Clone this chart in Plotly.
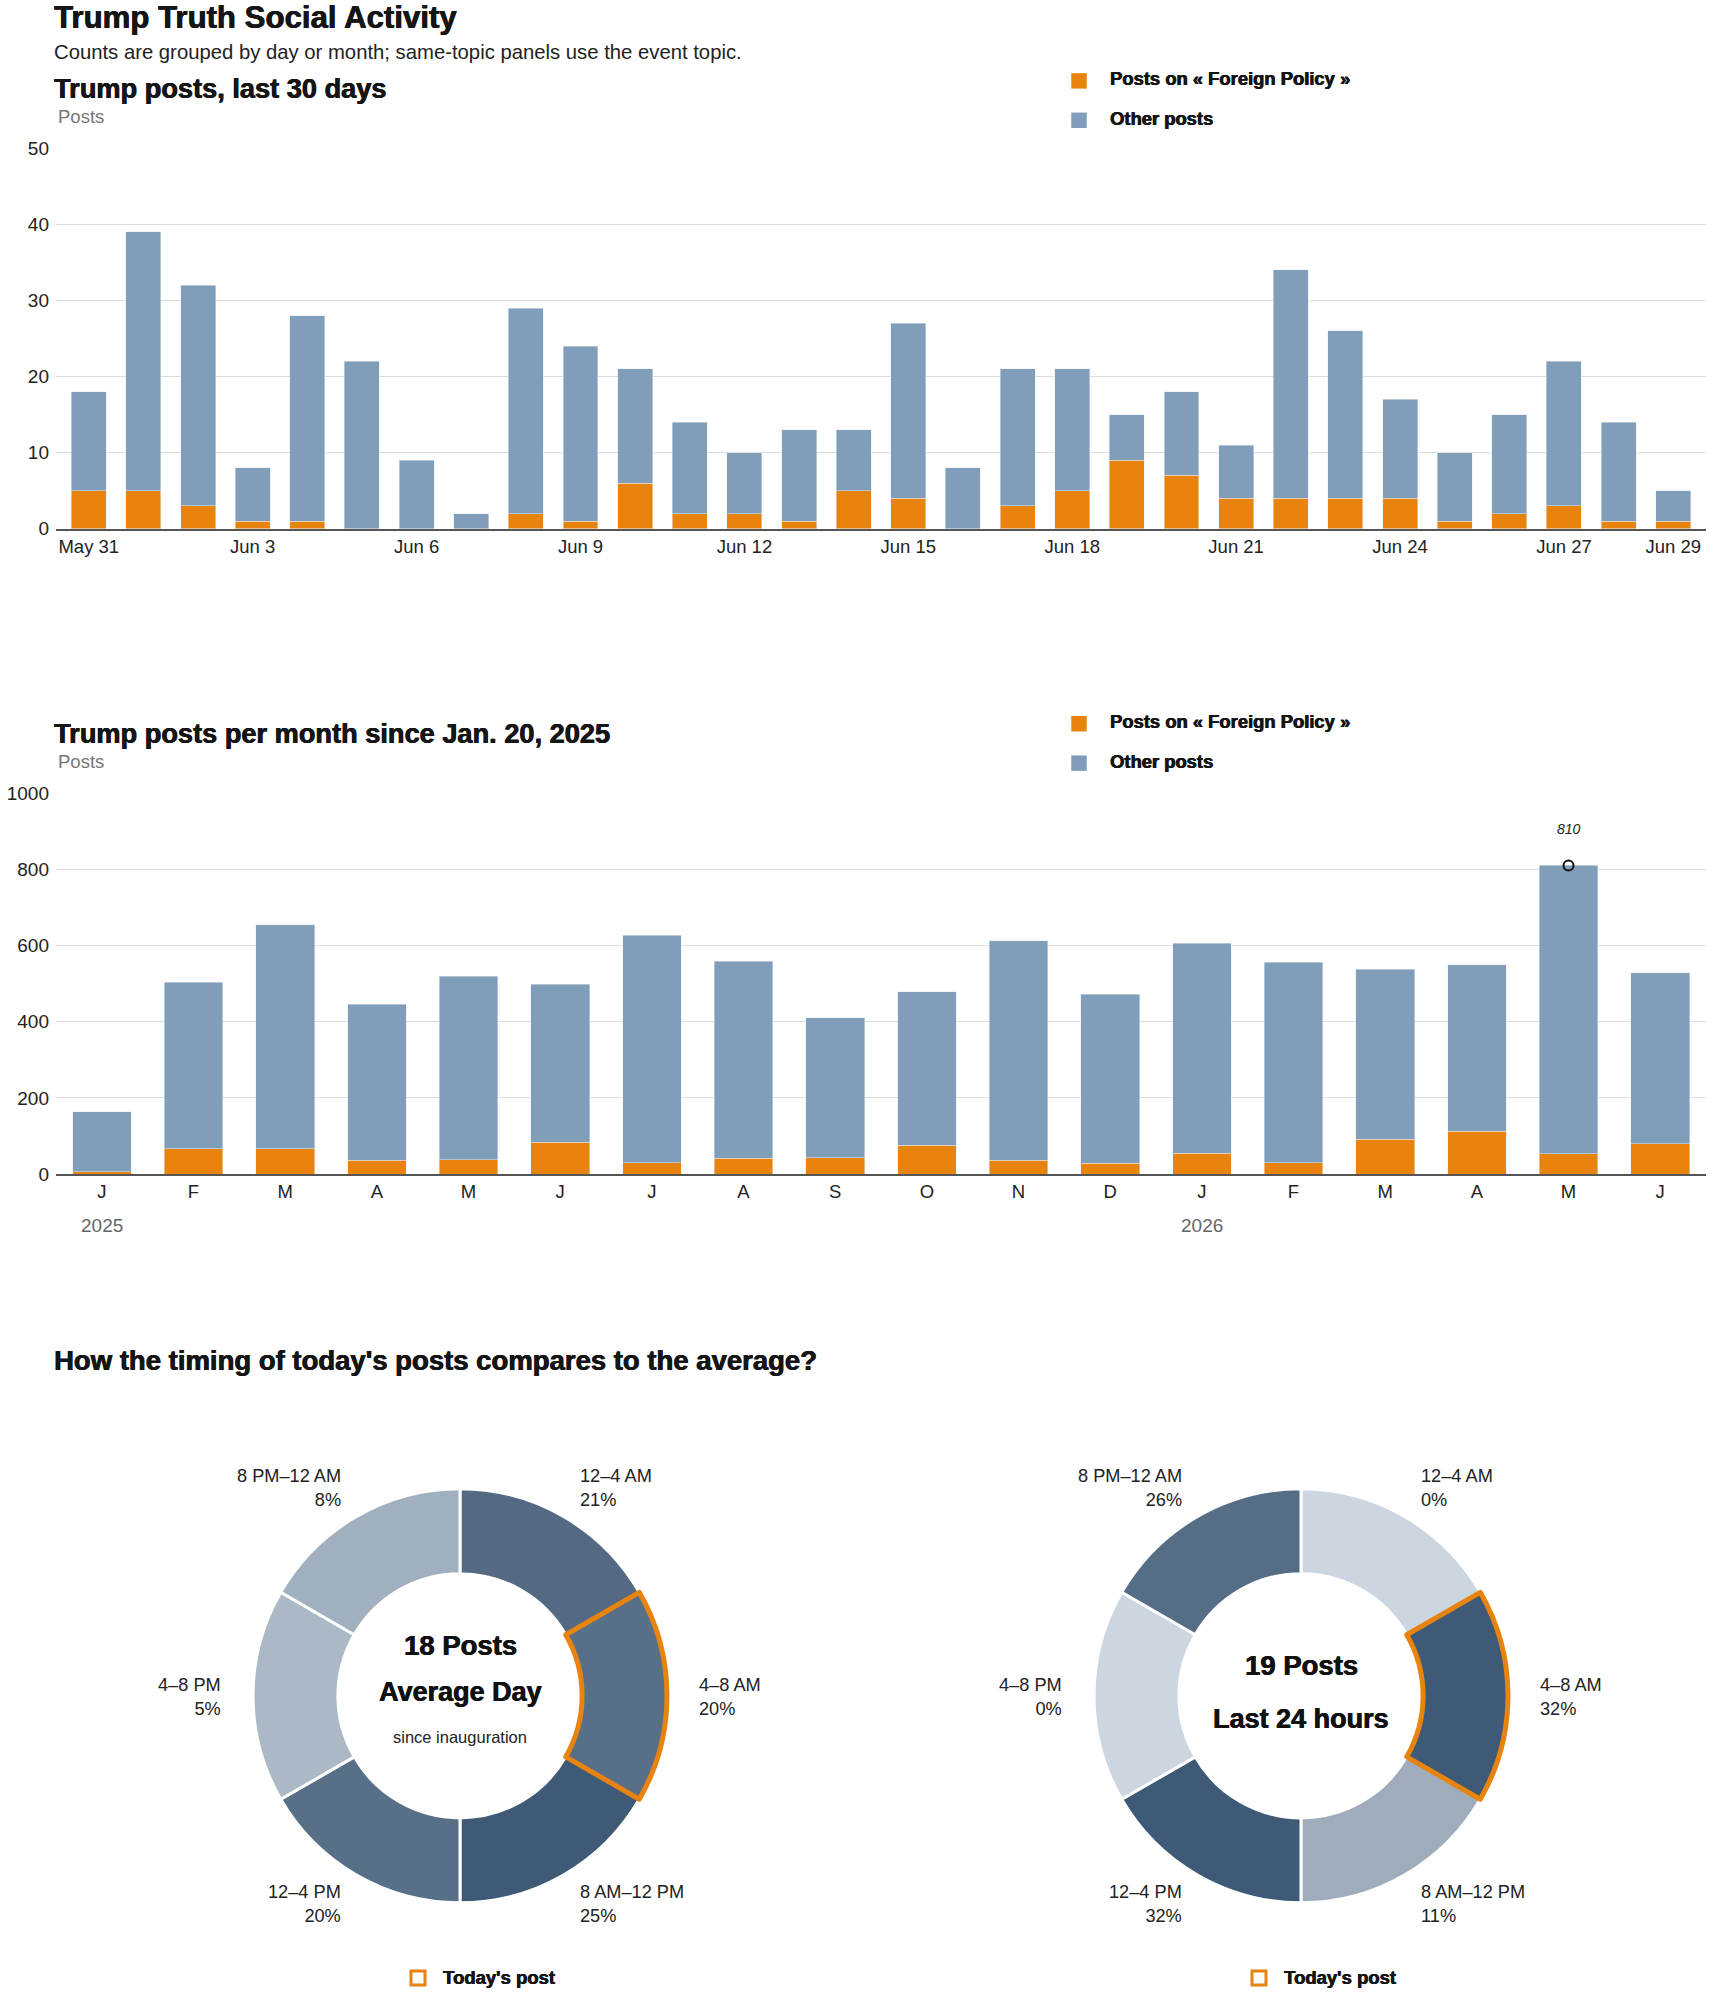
import plotly.graph_objects as go

W, H = 1710, 1993
def px(x): return x / W
# vertical positions are given in screenshot pixels; small correction for how the page is photographed
def py(y): return 1 - (1.00809 * y - 8) / H

# ---------------- data ----------------
day_labels = ["May 31"] + [f"Jun {d}" for d in range(1, 30)]
day_total = [18, 39, 32, 8, 28, 22, 9, 2, 29, 24, 21, 14, 10, 13, 13, 27, 8, 21, 21, 15, 18, 11, 34, 26, 17, 10, 15, 22, 14, 5]
day_foreign = [5, 5, 3, 1, 1, 0, 0, 0, 2, 1, 6, 2, 2, 1, 5, 4, 0, 3, 5, 9, 7, 4, 4, 4, 4, 1, 2, 3, 1, 1]
day_other = [t - f for t, f in zip(day_total, day_foreign)]
day_tick_labels = ["May 31", "Jun 3", "Jun 6", "Jun 9", "Jun 12", "Jun 15", "Jun 18", "Jun 21", "Jun 24", "Jun 27", "Jun 29"]

months = ["Jan 2025", "Feb 2025", "Mar 2025", "Apr 2025", "May 2025", "Jun 2025", "Jul 2025", "Aug 2025",
          "Sep 2025", "Oct 2025", "Nov 2025", "Dec 2025", "Jan 2026", "Feb 2026", "Mar 2026", "Apr 2026",
          "May 2026", "Jun 2026"]
month_initials = ["J", "F", "M", "A", "M", "J", "J", "A", "S", "O", "N", "D", "J", "F", "M", "A", "M", "J"]
month_total = [164, 504, 654, 446, 519, 498, 627, 559, 411, 478, 612, 472, 606, 556, 538, 549, 810, 528]
month_foreign = [6, 67, 67, 36, 38, 83, 30, 42, 43, 76, 36, 28, 55, 30, 91, 112, 53, 80]
month_other = [t - f for t, f in zip(month_total, month_foreign)]
peak_month = "May 2026"
peak_value = 810
year_labels = {"Jan 2025": "2025", "Jan 2026": "2026"}

slots = ["12–4 AM", "4–8 AM", "8 AM–12 PM", "12–4 PM", "4–8 PM", "8 PM–12 AM"]
segment_size = [1, 1, 1, 1, 1, 1]
avg_pct = [21, 20, 25, 20, 5, 8]
today_pct = [0, 32, 11, 32, 0, 26]
highlight_slot = "4–8 AM"

# ---------------- styles ----------------
ORANGE = "#e8830e"
BLUE = "#809db9"
SANS = "Liberation Sans, Arial, sans-serif"
INK = "#151515"
HEAVY = "0.5px 0 0 #151515, -0.3px 0 0 #151515"
avg_colors = ["#536a82", "#586f88", "#3e5a76", "#586f88", "#abb9c7", "#a1b0bf"]
today_colors = ["#cbd6e0", "#3e5a76", "#9eacbb", "#3e5a76", "#cbd6e0", "#566d86"]

fig = go.Figure()

# chart 1
fig.add_trace(go.Bar(x=day_labels, y=day_foreign, marker_color=ORANGE, name="Posts on « Foreign Policy »",
                     xaxis="x", yaxis="y", showlegend=False))
fig.add_trace(go.Bar(x=day_labels, y=day_other, marker_color=BLUE, name="Other posts",
                     xaxis="x", yaxis="y", showlegend=False))
# chart 2
fig.add_trace(go.Bar(x=months, y=month_foreign, marker_color=ORANGE, name="Posts on « Foreign Policy »",
                     xaxis="x2", yaxis="y2", showlegend=False))
fig.add_trace(go.Bar(x=months, y=month_other, marker_color=BLUE, name="Other posts",
                     xaxis="x2", yaxis="y2", showlegend=False))
fig.add_trace(go.Scatter(x=[peak_month], y=[peak_value], mode="markers", xaxis="x2", yaxis="y2",
                         marker=dict(symbol="circle-open", size=10, color="#111", line=dict(width=2)),
                         showlegend=False, hoverinfo="skip"))

# donuts
def donut(cx, cy, r, colors, name):
    dom = dict(x=[px(cx - r), px(cx + r)], y=[py(cy + r), py(cy - r)])
    fig.add_trace(go.Pie(labels=slots, values=segment_size, sort=False, direction="clockwise", rotation=0,
                         hole=0.59, domain=dom, textinfo="none", name=name, showlegend=False,
                         marker=dict(colors=colors, line=dict(color="white", width=3))))
    fig.add_trace(go.Pie(labels=slots, values=segment_size, sort=False, direction="clockwise", rotation=0,
                         hole=0.59, domain=dom, textinfo="none", showlegend=False, hoverinfo="skip",
                         marker=dict(colors=["rgba(0,0,0,0)"] * 6,
                                     line=dict(color=[ORANGE if s == highlight_slot else "rgba(0,0,0,0)" for s in slots],
                                               width=[5 if s == highlight_slot else 0 for s in slots]))))

donut(460, 1698, 207.5, avg_colors, "Average day")
donut(1301, 1698, 207.5, today_colors, "Last 24 hours")

axis_common = dict(showgrid=False, zeroline=False, showline=True, linecolor="#555", linewidth=2,
                   ticks="", tickfont=dict(family=SANS, size=18.5, color="#222"), fixedrange=True)
yaxis_common = dict(showgrid=True, gridcolor="#dcdcdc", gridwidth=1, zeroline=False, showline=False,
                    ticks="", tickfont=dict(family=SANS, size=19, color="#222"), ticklabelstandoff=6)

fig.update_layout(
    width=W, height=H, margin=dict(l=0, r=0, t=0, b=0),
    paper_bgcolor="white", plot_bgcolor="white",
    barmode="stack", bargap=0.36,
    xaxis=dict(axis_common, domain=[px(56), px(1706)], anchor="y", type="category", range=[-0.6, 29.6],
               tickmode="array", tickvals=day_tick_labels, ticktext=day_tick_labels),
    yaxis=dict(yaxis_common, domain=[py(528), py(146.5)], range=[0, 50], dtick=10, anchor="x"),
    xaxis2=dict(axis_common, domain=[px(56), px(1706)], anchor="y2", type="category", range=[-0.5, 17.5],
                tickmode="array", tickvals=months, ticktext=month_initials),
    yaxis2=dict(yaxis_common, domain=[py(1175), py(793)], range=[0, 1000], dtick=200, anchor="x2"),
)

ann = []
def text(x, y, t, size, family=SANS, color="#111", xanchor="left", yanchor="middle", shadow=None, **kw):
    font = dict(size=size, family=family, color=color)
    if shadow:
        font["shadow"] = shadow
    ann.append(dict(x=px(x), y=py(y), xref="paper", yref="paper", text=t, showarrow=False,
                    font=font, xanchor=xanchor, yanchor=yanchor, **kw))

text(52, 15, "<b>Trump Truth Social Activity</b>", 31.2, SANS, INK, shadow=HEAVY)
text(52, 50, "Counts are grouped by day or month; same-topic panels use the event topic.", 20.3, SANS, "#222")
text(52, 87, "<b>Trump posts, last 30 days</b>", 27.2, SANS, INK, shadow=HEAVY)
text(56, 115, "Posts", 18.5, SANS, "#777")
text(52, 733, "<b>Trump posts per month since Jan. 20, 2025</b>", 27.2, SANS, INK, shadow=HEAVY)
text(56, 761, "Posts", 18.5, SANS, "#777")
text(52, 1362, "<b>How the timing of today's posts compares to the average?</b>", 27.5, SANS, INK, shadow=HEAVY)

# legends
shapes = []
def square(cx, cy, color, s=15.5, fill=True, lw=0):
    shapes.append(dict(type="rect", xref="paper", yref="paper", x0=px(cx - s / 2), x1=px(cx + s / 2),
                       y0=py(cy + s / 2), y1=py(cy - s / 2),
                       fillcolor=color if fill else "rgba(0,0,0,0)",
                       line=dict(width=lw, color=color if lw else "rgba(0,0,0,0)")))

for top in (79, 723.5):
    square(1079, top, ORANGE)
    square(1079, top + 39.5, BLUE)
    text(1108, top - 2.5, "<b>Posts on « Foreign Policy »</b>", 18.4, SANS, INK, shadow=HEAVY)
    text(1108, top + 37.5, "<b>Other posts</b>", 18.4, SANS, INK, shadow=HEAVY)

# peak annotation
ann.append(dict(x=peak_month, y=peak_value, xref="x2", yref="y2", text=f"<i>{peak_value}</i>", showarrow=False,
                yshift=36, font=dict(size=14, family="Liberation Sans Narrow, Arial Narrow, sans-serif", color="#222")))
# year labels
for m, yl in year_labels.items():
    ann.append(dict(x=m, y=py(1227), xref="x2", yref="paper", text=yl, showarrow=False,
                    font=dict(size=19, family=SANS, color="#666")))

# donut labels
def slot_labels(dx, pcts):
    pos = [(578, "left", 0), (697, "left", 1), (578, "left", 2), (343, "right", 3), (223, "right", 4), (343, "right", 5)]
    ys = {0: 1478, 1: 1687, 2: 1895, 3: 1895, 4: 1687, 5: 1478}
    for x, anc, i in pos:
        text(x + dx, ys[i] + 12, f"{slots[i]}<br>{pcts[i]}%", 18.2, SANS, "#222", xanchor=anc,
             align=anc)

slot_labels(0, avg_pct)
slot_labels(841, today_pct)

text(460, 1648, "<b>18 Posts</b>", 27.5, SANS, "#111", xanchor="center", shadow=HEAVY)
text(460, 1694, "<b>Average Day</b>", 27, SANS, "#111", xanchor="center", shadow=HEAVY)
text(460, 1739, "since inauguration", 16.5, SANS, "#222", xanchor="center")
text(1301, 1668, "<b>19 Posts</b>", 27.5, SANS, "#111", xanchor="center", shadow=HEAVY)
text(1301, 1721, "<b>Last 24 hours</b>", 27, SANS, "#111", xanchor="center", shadow=HEAVY)

for cx in (418, 1259):
    square(cx, 1981, ORANGE, s=14, fill=False, lw=3)
    text(cx + 23, 1980, "<b>Today's post</b>", 18.5, SANS, INK, shadow=HEAVY)

fig.update_layout(annotations=ann, shapes=shapes)
fig.write_html("out.html")
